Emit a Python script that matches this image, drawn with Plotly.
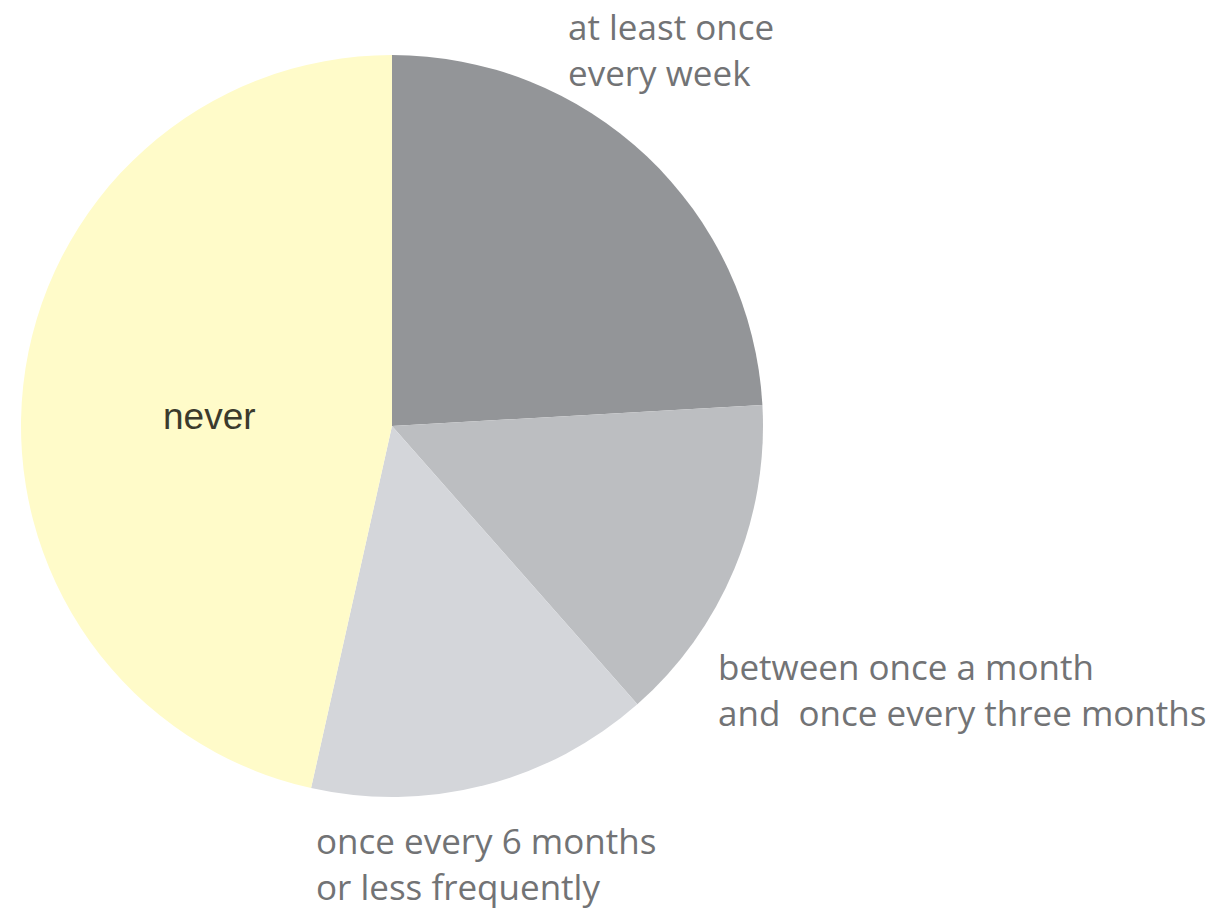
import plotly.graph_objects as go

# Share of respondents by frequency (clockwise from 12 o'clock)
categories = [
    "at least once every week",
    "between once a month and once every three months",
    "once every 6 months or less frequently",
    "never",
]
shares = [24.1, 14.4, 15.0, 46.5]
colors = ["#939598", "#bcbec1", "#d4d6da", "#fffbc9"]

W, H = 1220, 910
cx, cy, r = 392, 426, 371  # pie centre / radius in pixels

fig = go.Figure(
    go.Pie(
        labels=categories,
        values=shares,
        sort=False,
        direction="clockwise",
        rotation=0,
        marker=dict(colors=colors, line=dict(width=0)),
        textinfo="none",
        hoverinfo="label+percent",
        showlegend=False,
        domain=dict(
            x=[(cx - r) / W, (cx + r) / W],
            y=[(H - cy - r) / H, (H - cy + r) / H],
        ),
    )
)

label_font = dict(family="'Open Sans', Lato, sans-serif", size=35, color="#727375")
never_font = dict(family="'Liberation Sans', Arial, sans-serif", size=37, color="#3b3a2c")


def px_to_paper(x, y):
    return x / W, 1 - y / H


annotations = [
    ("at least once<br>every week", 566, 1, label_font),
    ("between once a month<br>and  once every three months", 716, 641, label_font),
    ("once every 6 months<br>or less frequently", 314, 815, label_font),
    ("never", 161, 394, never_font),
]
for text, x, y, font in annotations:
    ax, ay = px_to_paper(x, y)
    fig.add_annotation(
        text=text, x=ax, y=ay, xref="paper", yref="paper",
        xanchor="left", yanchor="top", align="left",
        showarrow=False, font=font,
    )

fig.update_layout(
    width=W, height=H,
    margin=dict(l=0, r=0, t=0, b=0),
    paper_bgcolor="white", plot_bgcolor="white",
)

fig.write_html("out.html")
